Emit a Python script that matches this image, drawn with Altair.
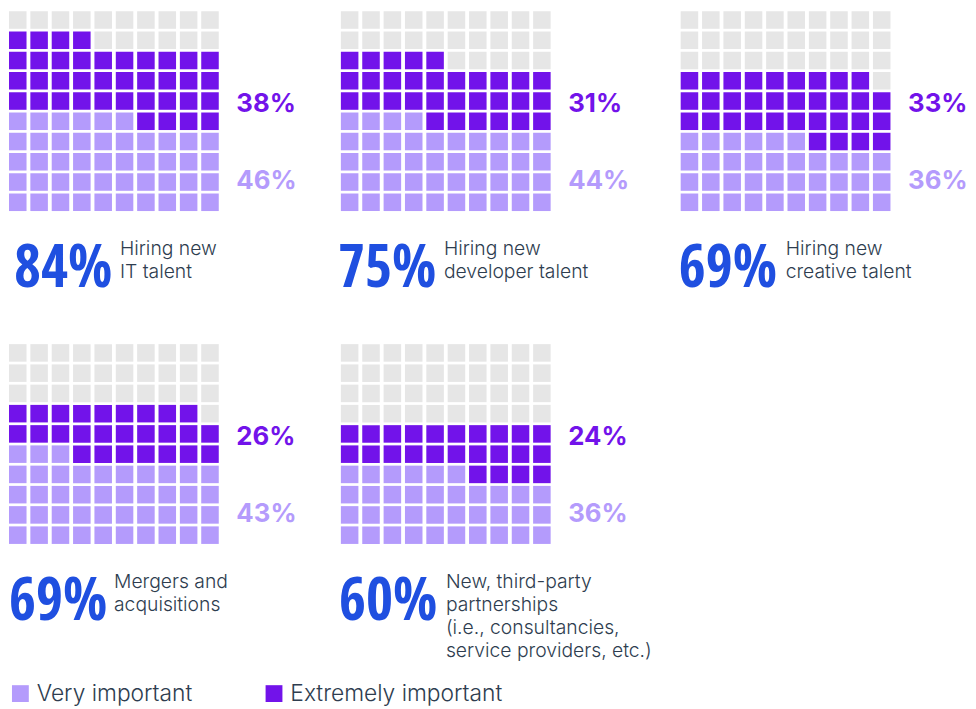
import altair as alt
import pandas as pd

# ---------------- data ----------------
topics = [
    "Hiring new\nIT talent",
    "Hiring new\ndeveloper talent",
    "Hiring new\ncreative talent",
    "Mergers and\nacquisitions",
    "New, third-party\npartnerships\n(i.e., consultancies,\nservice providers, etc.)",
]
very_pct = [46, 44, 36, 43, 36]
extreme_pct = [38, 31, 33, 26, 24]
total_pct = [84, 75, 69, 69, 60]
levels = ["Very important", "Extremely important", "Not important"]

# ---------------- style / layout ----------------
level_colors = ["#b49bfc", "#7213ea", "#e6e6e6"]
BLUE = "#1f4fe0"
TEXT = "#2e3d4f"
FONT = "Inter, Roboto, sans-serif"
NUM_FONT = "Open Sans Condensed, DejaVu Sans Condensed, sans-serif"

STEP_X, STEP_Y, CELL = 21.56, 20.44, 17.7
PANEL_W = [335, 343, 290, 335, 343]
ROW_H = 336
NUM_X = [5, -3, -2, 0, -2]
DESC_X = [112, 104, 106, 106, 106]

xs = alt.Scale(domain=[0, 10], range=[0, 10 * STEP_X])
ys = alt.Scale(domain=[0, 10], range=[10 * STEP_Y, 0])


def ux(p):
    return p / STEP_X


def uy(p):
    return 10 - p / STEP_Y


color = alt.Color(
    "level:N",
    scale=alt.Scale(domain=levels, range=level_colors),
    legend=alt.Legend(
        values=levels[:2], orient="none", legendX=0, legendY=677, padding=0,
        direction="horizontal", title=None, symbolType="square",
        symbolSize=289, symbolStrokeWidth=0, labelFont=FONT,
        labelFontSize=23, labelFontWeight=300, labelColor=TEXT,
        labelOffset=5, columnPadding=70, labelLimit=400,
    ),
)


def panel(i):
    rows = []
    for k in range(100):
        r, c = k // 10, k % 10
        if k < very_pct[i]:
            lev = levels[0]
        elif k < very_pct[i] + extreme_pct[i]:
            lev = levels[1]
        else:
            lev = levels[2]
        rows.append({"level": lev, "x": c, "x2": c + CELL / STEP_X,
                     "y": r + 1 - CELL / STEP_Y, "y2": r + 1})
    cells = alt.Chart(pd.DataFrame(rows)).mark_rect().encode(
        x=alt.X("x:Q", scale=xs, axis=None), x2="x2",
        y=alt.Y("y:Q", scale=ys, axis=None), y2="y2",
        color=color,
    )
    lab = pd.DataFrame({
        "lx": [ux(229.5)], "ye": [uy(101.7)], "yv": [uy(179.7)],
        "ext": [f"{extreme_pct[i]}%"], "very": [f"{very_pct[i]}%"],
        "nx": [ux(NUM_X[i])], "ny": [uy(278)], "num": [f"{total_pct[i]}%"],
        "dx": [ux(DESC_X[i])], "dy": [uy(245.7)], "desc": [topics[i]],
    })
    base = alt.Chart(lab)
    t_ext = base.mark_text(align="left", baseline="alphabetic", font=FONT,
                           fontSize=26, fontWeight="bold", color=level_colors[1]).encode(
        x=alt.X("lx:Q", scale=xs, axis=None), y=alt.Y("ye:Q", scale=ys, axis=None), text="ext:N")
    t_very = base.mark_text(align="left", baseline="alphabetic", font=FONT,
                            fontSize=26, fontWeight="bold", color=level_colors[0]).encode(
        x=alt.X("lx:Q", scale=xs, axis=None), y=alt.Y("yv:Q", scale=ys, axis=None), text="very:N")
    t_num = base.mark_text(align="left", baseline="alphabetic", font=NUM_FONT,
                           fontSize=59, fontWeight="bold", color=BLUE).encode(
        x=alt.X("nx:Q", scale=xs, axis=None), y=alt.Y("ny:Q", scale=ys, axis=None), text="num:N")
    t_desc = base.mark_text(align="left", baseline="alphabetic", font=FONT,
                            fontSize=19.5, fontWeight=300, color=TEXT,
                            lineBreak="\n", lineHeight=23.5).encode(
        x=alt.X("dx:Q", scale=xs, axis=None), y=alt.Y("dy:Q", scale=ys, axis=None), text="desc:N")
    return alt.layer(cells, t_ext, t_very, t_num, t_desc).properties(
        width=PANEL_W[i], height=ROW_H)


chart = alt.concat(
    *[panel(i) for i in range(5)], columns=3, spacing=0, bounds="flush"
).resolve_scale(color="shared").resolve_legend(color="shared").properties(
    padding={"left": 1, "top": 0, "right": 0, "bottom": 0}
).configure_view(stroke=None)

chart.save("out.html", embed_options={"renderer": "svg", "actions": False})
